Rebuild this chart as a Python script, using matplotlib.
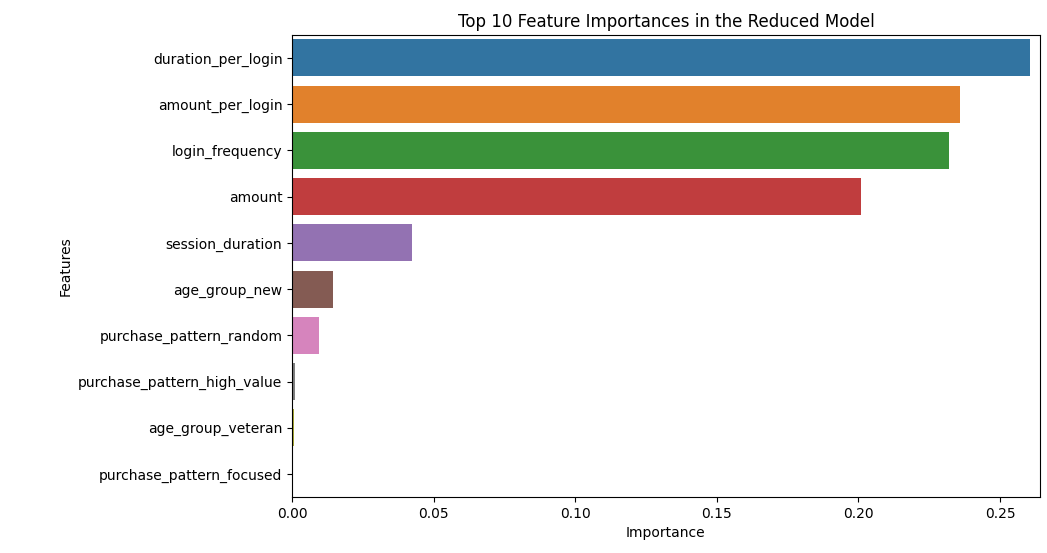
import matplotlib
matplotlib.use('Agg')
import matplotlib.pyplot as plt
import seaborn as sns
import pandas as pd

features = ['duration_per_login', 'amount_per_login', 'login_frequency', 'amount',
            'session_duration', 'age_group_new', 'purchase_pattern_random',
            'purchase_pattern_high_value', 'age_group_veteran', 'purchase_pattern_focused']
importance = [0.2606, 0.2359, 0.2320, 0.2009, 0.0424, 0.0145, 0.0095, 0.0010, 0.0005, 0.0002]

df = pd.DataFrame({'Feature': features, 'Importance': importance})

fig = plt.figure(figsize=(10.47, 5.53), dpi=100)
ax = fig.add_axes([0.279, 0.101, 0.714, 0.836])
sns.barplot(data=df, x='Importance', y='Feature', hue='Feature', palette='tab10',
            legend=False, ax=ax)
ax.set_xlim(0, 0.264)
ax.set_title('Top 10 Feature Importances in the Reduced Model')
ax.set_xlabel('Importance')
ax.set_ylabel('Features')
fig.savefig('out.png', dpi=100)
